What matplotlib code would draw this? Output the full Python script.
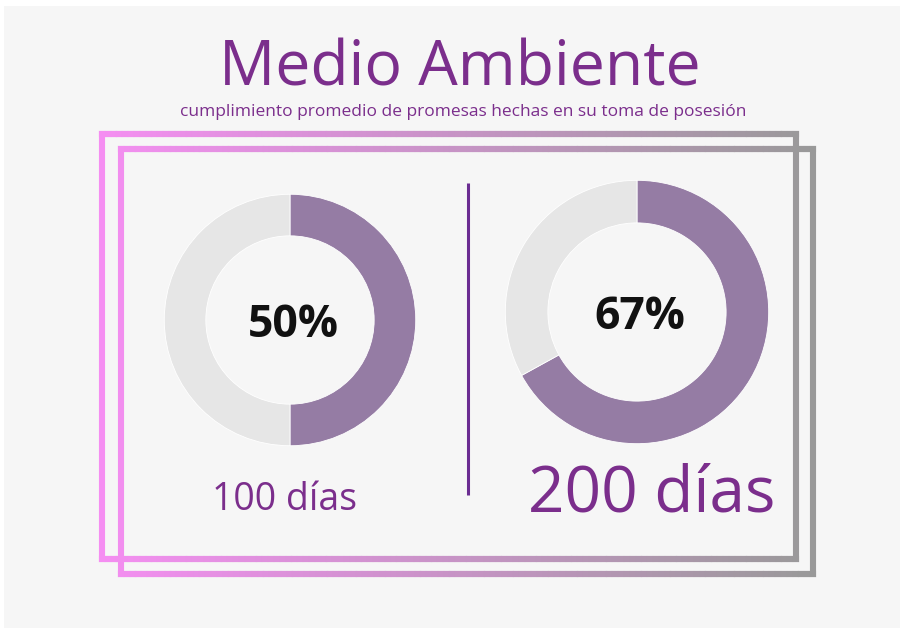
import numpy as np
import matplotlib
matplotlib.use("Agg")
import matplotlib.pyplot as plt
from matplotlib.collections import LineCollection
from matplotlib.colors import to_rgb
from matplotlib.patches import Rectangle

# ---- data ----
title = "Medio Ambiente"
subtitle = "cumplimiento promedio de promesas hechas en su toma de posesión"
periods = ["100 días", "200 días"]
cumplimiento = [50, 67]          # percent fulfilled
pct_labels = ["50%", "67%"]

# ---- style ----
W, H = 900, 628
BG = "#f6f6f6"
PURPLE_TXT = "#7b2e8c"
FILL = "#957ca4"
REST = "#e6e6e6"
LINE_PURPLE = "#6b2d92"
PINK = "#f58ef2"
GRAY = "#999999"
FONT = "Open Sans"

fig = plt.figure(figsize=(W / 100, H / 100), dpi=100)
fig.patch.set_facecolor("white")
bg = fig.add_axes([0, 0, 1, 1])
bg.set_xlim(0, W)
bg.set_ylim(H, 0)
bg.axis("off")
bg.add_patch(Rectangle((4, 6), W - 4, H - 6, facecolor=BG, edgecolor="none", zorder=0))

# ---- gradient frames ----
c_pink = np.array(to_rgb(PINK))
c_gray = np.array(to_rgb(GRAY))
x_lo, x_hi = 100, 815


def grad(x):
    t = np.clip((x - x_lo) / (x_hi - x_lo), 0, 1)
    return c_pink * (1 - t) + c_gray * t


def frame(x0, y0, x1, y1, lw=4.4):
    segs, cols = [], []
    xs = np.linspace(x0, x1, 120)
    for y in (y0, y1):
        for a, b in zip(xs[:-1], xs[1:]):
            segs.append([(a, y), (b, y)])
            cols.append(grad((a + b) / 2))
    segs.append([(x0, y0), (x0, y1)])
    cols.append(grad(x0))
    segs.append([(x1, y0), (x1, y1)])
    cols.append(grad(x1))
    lc = LineCollection(segs, colors=cols, linewidths=lw, capstyle="projecting", zorder=2)
    bg.add_collection(lc)


frame(102, 134, 796, 559)
frame(121, 149, 813, 574)

# ---- title texts ----
bg.text(460, 86, title, ha="center", va="baseline", fontsize=45, color=PURPLE_TXT,
        family=FONT, zorder=5)
bg.text(463, 116, subtitle, ha="center", va="baseline", fontsize=12.5, color=PURPLE_TXT,
        family=FONT, zorder=5)

# ---- divider ----
bg.plot([468, 468], [183, 495], color=LINE_PURPLE, lw=2.2, zorder=3, solid_capstyle="butt")

# ---- donuts ----
donuts = [
    dict(cx=290, cy=320, r=127, inner=85),
    dict(cx=637, cy=312, r=133, inner=90),
]
for d, val, lab in zip(donuts, cumplimiento, pct_labels):
    ax = fig.add_axes([(d["cx"] - d["r"]) / W, 1 - (d["cy"] + d["r"]) / H,
                       2 * d["r"] / W, 2 * d["r"] / H])
    ax.set_facecolor("none")
    ax.pie([val, 100 - val], colors=[FILL, REST], startangle=90, counterclock=False,
           radius=1, wedgeprops=dict(width=1 - d["inner"] / d["r"], edgecolor="white",
                                     linewidth=0.6))
    ax.set_xlim(-1.01, 1.01)
    ax.set_ylim(-1.01, 1.01)
    ax.set_aspect("equal")
    ax.axis("off")
    bg.text(d["cx"] + 3, d["cy"] + 17, lab, ha="center",
            va="baseline", fontsize=32, fontweight="bold", color="#111111", family=FONT,
            zorder=6)

# ---- period labels ----
bg.text(285, 510, periods[0], ha="center", va="baseline", fontsize=27, color=PURPLE_TXT,
        family=FONT, zorder=5)
bg.text(652, 512, periods[1], ha="center", va="baseline", fontsize=46, color=PURPLE_TXT,
        family=FONT, zorder=5)

fig.savefig("out.png", dpi=100, facecolor=fig.get_facecolor())
